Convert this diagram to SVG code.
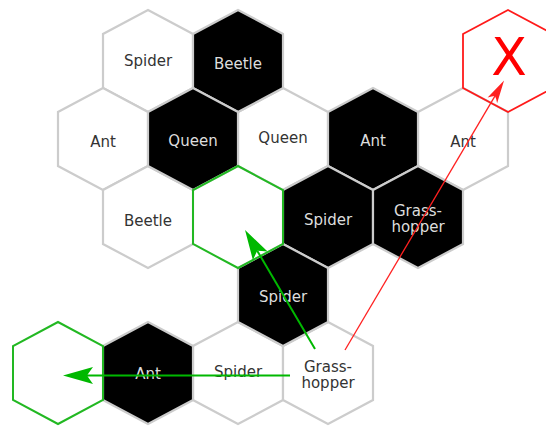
<svg xmlns="http://www.w3.org/2000/svg" xmlns:xlink="http://www.w3.org/1999/xlink" width="546" height="427" viewBox="0 0 546 427">
  <style>
    .w { fill: #ffffff; stroke: #cccccc; stroke-width: 2.2; }
    .b { fill: #000000; stroke: #cccccc; stroke-width: 2.2; }
    .g { fill: none; stroke: #22b822; stroke-width: 2; }
    .r { fill: none; stroke: #ff1a1a; stroke-width: 1.8; }
    text { font-family: "DejaVu Sans", Verdana, sans-serif; font-size: 15px; text-anchor: middle; }
    .tw { fill: #333333; }
    .tb { fill: #dddddd; }
    .x { fill: #ff0000; font-size: 52px; }
    .ga { stroke: #00b800; stroke-width: 2; fill: none; }
    .ra { stroke: #ff2020; stroke-width: 1.3; fill: none; }
  </style>
  <defs>
    <polygon id="hex" points="0,-51 45,-27 45,27 0,51 -45,27 -45,-27"/>
    <marker id="gHead" markerUnits="userSpaceOnUse" viewBox="-8 -10 34 20" markerWidth="34" markerHeight="20" refX="0" refY="0" orient="auto">
      <path d="M24,0 L-6,-8.5 Q-2,-3 0,0 Q-2,3 -6,8.5 Z" fill="#00b800"/>
    </marker>
    <marker id="rHead" markerUnits="userSpaceOnUse" viewBox="-7 -7 26 14" markerWidth="26" markerHeight="14" refX="0" refY="0" orient="auto">
      <path d="M18,0 L-5,-5.5 Q-1,-2 0,0 Q-1,2 -5,5.5 Z" fill="#ff2020"/>
    </marker>
  </defs>

  <!-- white hexes -->
  <g id="n-spider-r0"><use xlink:href="#hex" x="148" y="61" class="w"/><text x="148" y="66" class="tw">Spider</text></g>
  <g id="n-ant-r1a"><use xlink:href="#hex" x="103" y="139" class="w"/><text x="103" y="146.5" class="tw">Ant</text></g>
  <g id="n-queen-r1w"><use xlink:href="#hex" x="283" y="139" class="w"/><text x="283" y="143" class="tw">Queen</text></g>
  <g id="n-ant-r1w"><use xlink:href="#hex" x="463" y="139" class="w"/><text x="463" y="146.5" class="tw">Ant</text></g>
  <g id="n-beetle-r2"><use xlink:href="#hex" x="148" y="217" class="w"/><text x="148" y="226" class="tw">Beetle</text></g>
  <g id="n-spider-r4"><use xlink:href="#hex" x="238" y="373" class="w"/><text x="238" y="377" class="tw">Spider</text></g>
  <g id="n-grass-r4"><use xlink:href="#hex" x="328" y="373" class="w"/><text x="328" y="372" class="tw">Grass-</text><text x="328" y="387.5" class="tw">hopper</text></g>

  <!-- black hexes -->
  <g id="n-beetle-r0"><use xlink:href="#hex" x="238" y="61" class="b"/><text x="238" y="69" class="tb">Beetle</text></g>
  <g id="n-queen-r1b"><use xlink:href="#hex" x="193" y="139" class="b"/><text x="193" y="146" class="tb">Queen</text></g>
  <g id="n-ant-r1b"><use xlink:href="#hex" x="373" y="139" class="b"/><text x="373" y="145.5" class="tb">Ant</text></g>
  <g id="n-spider-r2"><use xlink:href="#hex" x="328" y="217" class="b"/><text x="328" y="225" class="tb">Spider</text></g>
  <g id="n-grass-r2"><use xlink:href="#hex" x="418" y="217" class="b"/><text x="418" y="216" class="tb">Grass-</text><text x="418" y="231.5" class="tb">hopper</text></g>
  <g id="n-spider-r3"><use xlink:href="#hex" x="283" y="295" class="b"/><text x="283" y="301.5" class="tb">Spider</text></g>
  <g id="n-ant-r4"><use xlink:href="#hex" x="148" y="373" class="b"/><text x="148" y="379" class="tb">Ant</text></g>

  <!-- target hexes -->
  <g id="n-target-r2"><use xlink:href="#hex" x="238" y="217" class="g"/></g>
  <g id="n-target-r4"><use xlink:href="#hex" x="58" y="373" class="g"/></g>
  <g id="n-invalid"><use xlink:href="#hex" x="508" y="61" class="r"/><text x="509" y="75" class="x">X</text></g>

  <!-- connectors -->
  <g id="connectors">
    <line x1="315" y1="349" x2="257.2" y2="250.7" class="ga" marker-end="url(#gHead)"/>
    <line x1="290" y1="375.5" x2="87" y2="375.5" class="ga" marker-end="url(#gHead)"/>
    <line x1="345" y1="350" x2="494.9" y2="96.1" class="ra" marker-end="url(#rHead)"/>
  </g>
</svg>
